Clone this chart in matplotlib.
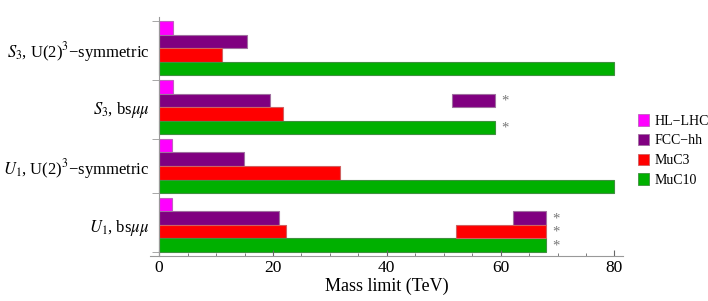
"""Mass reach of leptoquark scenarios at future colliders, horizontal bar chart."""

import matplotlib.pyplot as plt
from matplotlib.patches import Patch

plt.rcParams["font.family"] = ["Liberation Serif", "DejaVu Serif"]
plt.rcParams["mathtext.fontset"] = "stix"

CATEGORIES = [
    "$S_3$, U(2)$^3$\u2212symmetric",
    r"$S_3$, bs$\mu\mu$",
    "$U_1$, U(2)$^3$\u2212symmetric",
    r"$U_1$, bs$\mu\mu$",
]
COLLIDERS = ["HL\u2212LHC", "FCC\u2212hh", "MuC3", "MuC10"]
COLORS = ["#ff00ff", "#800080", "#ff0000", "#00b000"]
EDGES = ["#c060c0", "#a070a0", "#d06060", "#409040"]

# main bar values (TeV), one list per collider, in category order
HL_LHC = [2.5, 2.5, 2.2, 2.2]
FCC_HH = [15.4, 19.4, 14.9, 21.0]
MUC3 = [11.1, 21.8, 31.7, 22.3]
MUC10 = [80.0, 59.1, 80.0, 68.0]

# extra range segments: (category, collider, start, end)
RANGES = [
    (1, 1, 51.5, 59.1),
    (3, 1, 62.1, 68.0),
    (3, 2, 52.1, 68.0),
]
# bars flagged with an asterisk: (category, collider, end)
STARRED = [
    (1, 1, 59.1),
    (1, 3, 59.1),
    (3, 1, 68.0),
    (3, 2, 68.0),
    (3, 3, 68.0),
]

GAP = 0.33
N = len(COLLIDERS)


def ypos(cat, col):
    return cat * (N + GAP) + col + 0.5


fig = plt.figure(figsize=(7.08, 3.01), dpi=100)
ax = fig.add_axes([0.2119, 0.1495, 0.668, 0.794])

series = [HL_LHC, FCC_HH, MUC3, MUC10]
for j, vals in enumerate(series):
    ys = [ypos(i, j) for i in range(len(CATEGORIES))]
    ax.barh(ys, vals, height=1.0, color=COLORS[j], edgecolor=EDGES[j], linewidth=0.8)

for cat, col, start, end in RANGES:
    ax.barh(ypos(cat, col), end - start, left=start, height=1.0,
            color=COLORS[col], edgecolor=EDGES[col], linewidth=0.8)

for cat, col, end in STARRED:
    ax.text(end + 1.0, ypos(cat, col) + 0.05, "*", color="#777777", fontsize=10.5,
            ha="left", va="center")

ax.set_xlim(-1.6, 81.5)
total = len(CATEGORIES) * (N + GAP) - GAP
ax.set_ylim(total + 0.3, -0.3)

ax.spines["top"].set_visible(False)
ax.spines["right"].set_visible(False)
ax.spines["left"].set_position(("data", 0))
for s in ("left", "bottom"):
    ax.spines[s].set_color("#999999")
    ax.spines[s].set_linewidth(0.8)
ax.spines["left"].set_bounds(total + 0.3, -0.3)

ax.set_xticks([0, 20, 40, 60, 80])
ax.set_xticks(range(5, 80, 5), minor=True)
ax.tick_params(axis="x", which="major", direction="in", length=4, color="#666666",
               labelsize=12.5, pad=3)
ax.tick_params(axis="x", which="minor", direction="in", length=2.5, color="#666666")

centers = [ypos(i, 0) - 0.5 + N / 2 for i in range(len(CATEGORIES))]
ax.set_yticks(centers)
ax.set_yticklabels(CATEGORIES)
ax.tick_params(axis="y", which="major", length=0, labelsize=12, pad=7)
bounds = [0, N + GAP, 2 * (N + GAP), 3 * (N + GAP) - GAP, total]
ax.set_yticks(bounds, minor=True)
ax.tick_params(axis="y", which="minor", length=5, color="#999999")

ax.set_xlabel("Mass limit (TeV)", fontsize=13, labelpad=1)

handles = [Patch(facecolor=c, edgecolor=e, linewidth=0.6) for c, e in zip(COLORS, EDGES)]
fig.legend(handles, COLLIDERS, loc="center left", bbox_to_anchor=(0.883, 0.5),
           frameon=False, fontsize=10, handlelength=0.85, handleheight=0.9,
           handletextpad=0.4, labelspacing=0.45)

fig.savefig("out.png", dpi=100)
